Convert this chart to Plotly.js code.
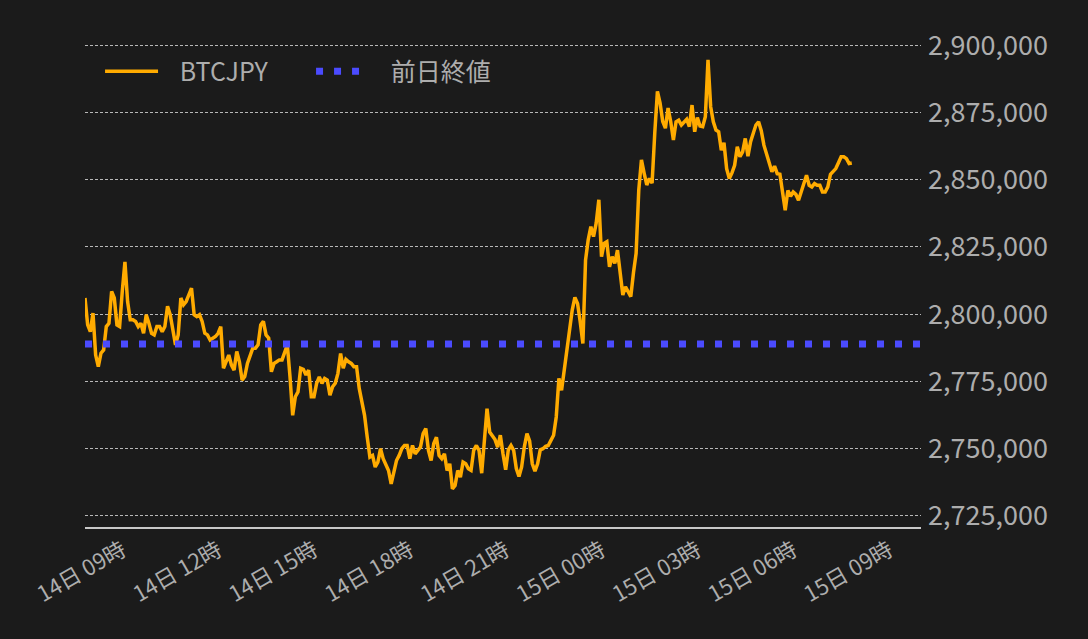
<!DOCTYPE html>
<html>
<head>
<meta charset="utf-8">
<script src="https://cdn.plot.ly/plotly-3.0.1.min.js"></script>
<style>
  html, body { margin: 0; padding: 0; background: #1b1b1b; }
  #chart { width: 1088px; height: 639px; }
</style>
</head>
<body>
<div id="chart"></div>
<script>
// BTCJPY, 5 minute closes, 14日 07:50 -> 15日 07:50
var startTime = Date.UTC(2023, 2, 14, 7, 50);
var stepMinutes = 5;
var axisStart = '2023-03-14 07:50';
var axisEnd = '2023-03-15 10:00';

// 14日 07:50 - 13:55
var priceDay = [
  2806000, 2796000, 2793500, 2800400, 2784800, 2780500, 2785500, 2786700, 2795400, 2796600,
  2808500, 2806000, 2796000, 2795400, 2808500, 2819400, 2804700, 2797900, 2797900, 2797300,
  2795400, 2796600, 2792900, 2799800, 2796600, 2792900, 2792300, 2795400, 2795400, 2793500,
  2795400, 2802900, 2799800, 2794800, 2788600, 2792300, 2806000, 2803500, 2804700, 2807200,
  2809700, 2799800, 2799100, 2799800, 2797300, 2792900, 2792300, 2790400, 2791100, 2791700,
  2792900, 2795400, 2779900, 2782300, 2784800, 2781100, 2779200, 2786100, 2782300, 2775500,
  2776800, 2781700, 2784800, 2787300, 2787300, 2788600, 2796000, 2797300, 2792300, 2791100,
  2778600, 2781700, 2782300, 2783000
];
// 14日 14:00 - 19:55
var priceEvening = [
  2783000, 2785400, 2788600, 2776700, 2762400, 2769300, 2771100, 2779900, 2779500, 2777400,
  2779200, 2769300, 2769300, 2774300, 2776700, 2774300, 2776100, 2775500, 2769900, 2773000,
  2774300, 2778000, 2785400, 2779900, 2783200, 2782300, 2781700, 2780500, 2780500, 2772400,
  2767400, 2762400, 2754300, 2746900, 2747500, 2743200, 2745000, 2750000, 2746300, 2743800,
  2741900, 2736900, 2740700, 2745600, 2747500, 2750000, 2751200, 2751200, 2746300, 2751200,
  2748100, 2749400, 2750600, 2755600, 2757500, 2749400, 2745600, 2751900, 2754300, 2747500,
  2746300, 2748100, 2741900, 2744400, 2735100, 2736300, 2741900, 2739400, 2745000, 2744400,
  2742500, 2741900
];
// 14日 20:00 - 15日 02:05
var priceNight = [
  2749400, 2751200, 2749400, 2740900, 2751900, 2764900, 2756200, 2754600, 2753400, 2750600,
  2755000, 2748100, 2742200, 2749600, 2751200, 2749400, 2742600, 2739700, 2743200, 2750600,
  2755600, 2752900, 2744400, 2741700, 2744400, 2749600, 2750000, 2750900, 2751200, 2753100,
  2755000, 2761800, 2776100, 2771700, 2779200, 2786600, 2794700, 2801500, 2806200, 2804000,
  2797200, 2789100, 2820100, 2827600, 2832500, 2828800, 2833800, 2842500, 2821400, 2826300,
  2826900, 2817600, 2821400, 2818900, 2823800, 2816400, 2807100, 2810200, 2808000, 2806500,
  2815400, 2822600, 2846200, 2857300, 2852400, 2848000, 2850500, 2848700, 2867300, 2882800,
  2878400, 2871600, 2869100, 2876600
];
// 15日 02:10 - 07:50
var priceMorning = [
  2871500, 2864700, 2871500, 2872100, 2870300, 2871500, 2872400, 2869700, 2877700, 2867800,
  2873100, 2869900, 2869700, 2873400, 2894500, 2877100, 2871500, 2868400, 2867800, 2860900,
  2863700, 2854100, 2850400, 2852500, 2855300, 2862200, 2858500, 2860300, 2865300, 2858700,
  2864100, 2867200, 2870300, 2871500, 2868200, 2862800, 2859700, 2856000, 2852900, 2855000,
  2852200, 2852000, 2845400, 2838600, 2846000, 2843800, 2845400, 2844500, 2842300, 2845400,
  2848500, 2851600, 2847900, 2847300, 2848500, 2847900, 2847900, 2845400, 2845400, 2847300,
  2852000, 2852900, 2854100, 2856300, 2858500, 2858500, 2857800, 2856000, 2856200
];

var prevClose = 2788900; // 前日終値

var prices = priceDay.concat(priceEvening, priceNight, priceMorning);

// time stamps for each 5 min bar
var times = prices.map((p, i) => {
  var t = new Date(startTime + i * stepMinutes * 60000);
  return t.toISOString().slice(0, 16).replace('T', ' ');
});

var textColor = '#adadad';
var cjkFont = '"Noto Sans CJK JP", "Noto Sans", sans-serif';
var pad = '\u00a0\u00a0\u00a0'; // push legend text away from the symbol

var traceBtc = {
  x: times,
  y: prices,
  name: pad + 'BTCJPY',
  type: 'scatter',
  mode: 'lines',
  line: {color: '#ffab00', width: 3.5}
};

var tracePrev = {
  x: [axisStart, axisEnd],
  y: [prevClose, prevClose],
  name: pad + '前日終値',
  type: 'scatter',
  mode: 'lines',
  line: {color: '#4b4bff', width: 7, dash: '7px,11px'}
};

var layout = {
  width: 1088,
  height: 639,
  paper_bgcolor: '#1b1b1b',
  plot_bgcolor: '#1b1b1b',
  font: {family: cjkFont, color: textColor},
  margin: {l: 85, r: 167, t: 30, b: 112},
  showlegend: true,
  legend: {
    orientation: 'h',
    x: 0.018, y: 0.963,
    xanchor: 'left', yanchor: 'top',
    bgcolor: 'rgba(0,0,0,0)',
    font: {size: 25, color: textColor, family: cjkFont},
    itemwidth: 53,
    entrywidth: 143
  },
  xaxis: {
    type: 'date',
    range: [axisStart, axisEnd],
    tick0: '2023-03-14 09:00',
    dtick: 3 * 3600 * 1000,
    tickformat: '%d日 %H時',
    tickangle: -30,
    tickfont: {size: 22, color: textColor},
    ticks: '',
    showgrid: false,
    zeroline: false,
    showline: true,
    linecolor: '#c8c8c8',
    linewidth: 2
  },
  yaxis: {
    side: 'right',
    range: [2720900, 2905600],
    dtick: 25000,
    tickformat: ',d',
    tickfont: {size: 27, color: textColor},
    ticks: '',
    ticklabelstandoff: 6,
    showgrid: true,
    gridcolor: '#b8b8b8',
    gridwidth: 1,
    griddash: '3px,2px',
    zeroline: false,
    showline: false
  },
  hovermode: false
};

Plotly.newPlot('chart', [traceBtc, tracePrev], layout, {displayModeBar: false, staticPlot: true});
</script>
</body>
</html>
